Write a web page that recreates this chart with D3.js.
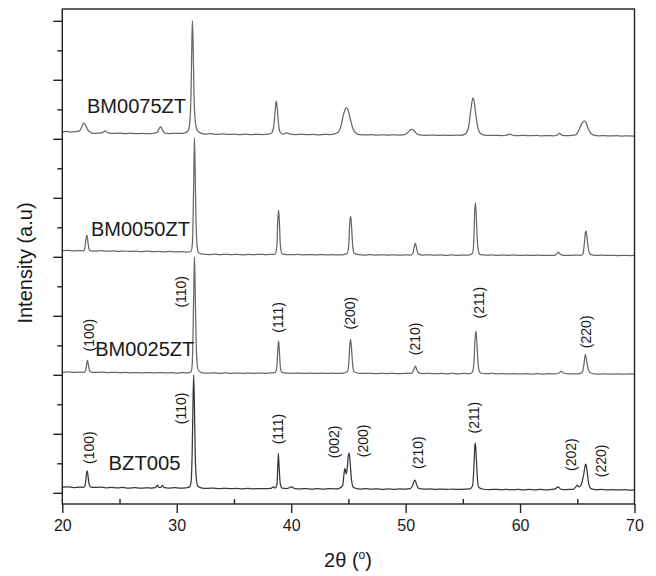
<!DOCTYPE html>
<html>
<head>
<meta charset="utf-8">
<script src="https://cdn.jsdelivr.net/npm/d3@7"></script>
<style>
  body { margin: 0; background: #fff; }
  svg { display: block; }
  text { font-family: "Liberation Sans", Arial, Helvetica, sans-serif; fill: #1a1a1a; }
</style>
</head>
<body>
<svg id="chart" width="656" height="576"></svg>
<script>
// XRD patterns, 2θ (degrees) vs intensity (counts), each pattern shifted by its offset
const samples = ["BZT005", "BM0025ZT", "BM0050ZT", "BM0075ZT"];
const offsets = [0, 1970, 3980, 6000];

const bzt005 = [
  [20.0,95],[20.5,102],[21.0,88],[21.5,98],[21.8,92],
  [21.95,110],[22.05,200],[22.12,330],[22.17,373],[22.24,300],[22.33,160],[22.45,100],
  [22.8,90],[23.3,97],[23.8,85],[24.3,92],[24.8,84],[25.3,90],[25.8,80],[26.3,86],[26.8,78],[27.3,84],[27.8,80],
  [28.15,88],[28.3,128],[28.45,90],[28.6,92],[28.75,126],[28.9,88],
  [29.3,80],[29.8,86],[30.3,78],[30.8,84],[31.1,95],
  [31.25,180],[31.35,700],[31.42,1500],[31.48,1995],[31.54,1550],[31.6,800],[31.7,260],[31.85,110],
  [32.2,80],[32.7,74],[33.2,80],[33.7,70],[34.2,76],[34.7,70],[35.2,75],[35.7,68],[36.2,74],[36.7,66],[37.2,72],[37.7,70],[38.2,74],
  [38.45,100],[38.6,82],[38.75,140],[38.82,400],[38.88,668],[38.95,420],[39.05,150],[39.2,80],
  [39.6,72],[40.07,100],[40.3,70],[40.8,66],[41.3,72],[41.8,64],[42.3,70],[42.8,64],[43.3,72],[43.8,66],[44.2,75],
  [44.5,120],[44.62,330],[44.7,414],[44.8,320],[44.9,420],[45.0,640],[45.07,673],[45.15,520],[45.27,220],[45.45,90],
  [46.0,64],[46.5,70],[47.0,62],[47.5,68],[48.0,60],[48.5,66],[49.0,60],[49.5,66],[50.0,62],[50.4,70],
  [50.6,120],[50.75,200],[50.82,215],[50.95,150],[51.1,80],
  [51.6,62],[52.1,66],[52.6,58],[53.1,64],[53.6,58],[54.1,62],[54.6,56],[55.1,62],[55.6,66],
  [55.85,120],[55.97,450],[56.05,790],[56.1,842],[56.17,620],[56.27,250],[56.4,90],
  [56.8,60],[57.3,54],[57.8,60],[58.3,52],[58.8,58],[59.3,52],[59.8,58],[60.3,50],[60.8,56],[61.3,50],[61.8,56],[62.3,50],[62.8,56],
  [63.1,70],[63.3,102],[63.5,70],[63.8,52],[64.3,56],[64.7,62],
  [64.9,110],[65.0,130],[65.15,100],[65.3,120],
  [65.55,300],[65.7,470],[65.76,486],[65.85,380],[66.0,150],[66.2,70],
  [66.6,52],[67.1,56],[67.6,48],[68.1,54],[68.6,48],[69.1,52],[69.6,46],[70.0,50]
];

const bm0025zt = [
  [20.0,72],[20.5,78],[21.0,70],[21.5,76],[21.9,72],
  [22.03,100],[22.12,200],[22.2,279],[22.28,200],[22.38,100],[22.55,74],
  [23.0,70],[23.5,74],[24.0,66],[24.5,72],[25.0,66],[25.5,70],[26.0,64],[26.5,68],[27.0,62],[27.5,68],[28.0,62],[28.5,68],[29.0,62],[29.5,66],[30.0,60],[30.5,66],[31.0,62],[31.25,80],
  [31.35,200],[31.43,800],[31.5,1600],[31.55,2030],[31.6,1600],[31.67,800],[31.77,250],[31.9,100],
  [32.3,62],[32.8,58],[33.3,64],[33.8,56],[34.3,62],[34.8,56],[35.3,60],[35.8,54],[36.3,60],[36.8,54],[37.3,60],[37.8,56],[38.3,62],[38.6,70],
  [38.74,150],[38.82,420],[38.9,606],[38.97,420],[39.06,150],[39.2,70],
  [39.6,58],[40.1,56],[40.6,60],[41.1,54],[41.6,58],[42.1,52],[42.6,58],[43.1,52],[43.6,58],[44.1,54],[44.6,60],[44.9,80],
  [45.02,200],[45.12,520],[45.2,630],[45.28,450],[45.38,180],[45.5,80],
  [45.9,56],[46.4,52],[46.9,56],[47.4,50],[47.9,56],[48.4,50],[48.9,54],[49.4,48],[49.9,54],[50.4,52],[50.6,70],
  [50.75,140],[50.85,178],[50.97,120],[51.15,62],
  [51.6,50],[52.1,54],[52.6,48],[53.1,52],[53.6,46],[54.1,52],[54.6,46],[55.1,52],[55.6,50],[55.85,80],
  [55.97,250],[56.07,650],[56.15,771],[56.22,600],[56.32,250],[56.45,90],[56.6,56],
  [57.0,48],[57.5,52],[58.0,46],[58.5,50],[59.0,44],[59.5,50],[60.0,44],[60.5,48],[61.0,42],[61.5,48],[62.0,42],[62.5,48],[63.0,44],[63.4,60],
  [63.6,90],[63.8,60],[64.2,46],[64.7,44],[65.2,50],[65.45,80],
  [65.58,200],[65.7,376],[65.8,300],[65.92,150],[66.1,70],
  [66.5,46],[67.0,42],[67.5,46],[68.0,40],[68.5,44],[69.0,40],[69.5,44],[70.0,40]
];

const bm0050zt = [
  [20.0,125],[20.5,130],[21.0,120],[21.5,126],[21.85,122],
  [21.98,180],[22.07,330],[22.15,388],[22.22,300],[22.32,160],[22.45,120],
  [22.9,118],[23.4,124],[23.9,114],[24.4,120],[24.9,112],[25.4,118],[25.9,110],[26.4,116],[26.9,108],[27.4,114],[27.9,106],[28.4,112],[28.9,104],[29.4,110],[29.9,102],[30.4,106],[30.9,98],[31.25,110],
  [31.37,250],[31.45,900],[31.51,1650],[31.55,2032],[31.6,1600],[31.67,750],[31.77,230],[31.9,90],
  [32.3,64],[32.8,58],[33.3,66],[33.8,56],[34.3,62],[34.8,56],[35.3,62],[35.8,54],[36.3,60],[36.8,56],[37.3,62],[37.8,56],[38.3,62],[38.6,66],
  [38.75,200],[38.83,640],[38.9,812],[38.97,600],[39.06,200],[39.2,70],
  [39.6,58],[40.1,56],[40.6,60],[41.1,54],[41.6,58],[42.1,52],[42.6,58],[43.1,52],[43.6,56],[44.1,52],[44.6,58],[44.9,76],
  [45.03,220],[45.12,600],[45.2,710],[45.28,520],[45.38,200],[45.5,80],
  [45.9,56],[46.4,50],[46.9,56],[47.4,50],[47.9,54],[48.4,48],[48.9,54],[49.4,48],[49.9,52],[50.4,50],[50.62,70],
  [50.75,180],[50.85,252],[50.95,170],[51.1,70],
  [51.5,50],[52.0,54],[52.5,48],[53.0,52],[53.5,46],[54.0,52],[54.5,46],[55.0,50],[55.5,48],[55.85,80],
  [55.96,300],[56.04,800],[56.1,935],[56.17,720],[56.27,280],[56.4,90],[56.55,56],
  [57.0,48],[57.5,52],[58.0,46],[58.5,50],[59.0,44],[59.5,50],[60.0,44],[60.5,48],[61.0,42],[61.5,48],[62.0,42],[62.5,46],[63.0,44],
  [63.2,70],[63.35,100],[63.5,62],[63.8,46],[64.3,44],[64.8,48],[65.3,46],[65.5,70],
  [65.62,250],[65.72,440],[65.77,456],[65.86,330],[65.98,140],[66.15,60],
  [66.6,44],[67.1,48],[67.6,42],[68.1,46],[68.6,40],[69.1,44],[69.6,40],[70.0,42]
];

const bm0075zt = [
  [20.0,118],[20.4,124],[20.8,114],[21.2,122],[21.5,135],[21.7,200],[21.85,272],[22.0,240],[22.2,160],[22.45,110],[22.7,92],
  [23.1,96],[23.5,104],[23.75,136],[24.0,100],[24.5,90],[25.0,96],[25.5,88],[26.0,94],[26.5,86],[27.0,92],[27.5,86],[28.0,92],[28.3,110],
  [28.48,180],[28.6,204],[28.75,150],[28.95,96],[29.3,88],[29.8,92],[30.3,90],[30.7,100],[31.0,140],
  [31.15,300],[31.25,800],[31.32,1600],[31.37,2000],[31.43,1600],[31.5,800],[31.62,300],[31.8,140],[32.1,96],
  [32.5,80],[33.0,86],[33.5,76],[34.0,82],[34.5,74],[35.0,80],[35.5,72],[36.0,78],[36.5,70],[37.0,76],[37.5,72],[38.0,80],[38.3,100],
  [38.5,250],[38.62,520],[38.7,639],[38.78,520],[38.9,240],[39.05,110],[39.3,80],[39.6,100],[39.9,80],
  [40.4,72],[40.9,76],[41.4,70],[41.9,74],[42.4,68],[42.9,74],[43.4,72],[43.8,84],[44.1,110],
  [44.35,220],[44.6,430],[44.8,526],[44.95,500],[45.15,350],[45.4,170],[45.7,90],[46.0,70],
  [46.5,66],[47.0,70],[47.5,64],[48.0,68],[48.5,62],[49.0,68],[49.5,62],[49.9,70],
  [50.2,110],[50.45,155],[50.6,160],[50.8,120],[51.05,76],[51.4,62],
  [51.9,60],[52.4,64],[52.9,58],[53.4,62],[53.9,56],[54.4,62],[54.8,60],[55.2,80],
  [55.5,200],[55.72,520],[55.88,695],[55.98,640],[56.15,380],[56.35,160],[56.6,80],[56.9,62],
  [57.4,56],[57.9,60],[58.4,54],[58.8,60],[59.1,80],[59.4,58],[59.9,54],[60.4,58],[60.9,52],[61.4,56],[61.9,50],[62.4,54],[62.9,50],
  [63.2,60],[63.45,90],[63.7,58],[64.1,52],[64.5,56],[64.9,70],
  [65.15,150],[65.4,260],[65.6,305],[65.75,280],[65.95,170],[66.2,90],[66.5,58],
  [66.9,50],[67.4,54],[67.9,48],[68.4,52],[68.9,46],[69.4,50],[70.0,46]
];

const patterns = [bzt005, bm0025zt, bm0050zt, bm0075zt];

// Sample name anchors, in (2θ, counts)
const sampleLabelAt = [[24.04, 385], [22.88, 2317], [22.5, 4351], [22.16, 6444]];

// Miller indices for the BM0025ZT and BZT005 reflections, anchored in (2θ, counts)
const hklBM0025 = ["(100)", "(110)", "(111)", "(200)", "(210)", "(211)", "(220)"];
const hklBM0025At = [[22.29, 2673], [30.36, 3407], [38.87, 2973], [45.13, 3046], [50.80, 2609], [56.41, 3224], [65.78, 2729]];
const hklBZT005 = ["(100)", "(110)", "(111)", "(002)", "(200)", "(210)", "(211)", "(202)", "(220)"];
const hklBZT005At = [[22.29, 766], [30.36, 1431], [38.87, 1080], [43.73, 864], [46.24, 880], [51.09, 681], [55.98, 1275], [64.48, 647], [67.03, 541]];

const xTicks = [20, 30, 40, 50, 60, 70];
const xMinorTicks = [25, 35, 45, 55, 65];
const yTicks = [0, 1000, 2000, 3000, 4000, 5000, 6000, 7000, 8000];
const yMinorTicks = [500, 1500, 2500, 3500, 4500, 5500, 6500, 7500];

const svg = d3.select("#chart");
const plotLeft = 62.3, plotRight = 634.5, plotTop = 9, plotBottom = 504;

const x = d3.scaleLinear().domain([20, 70]).range([plotLeft, plotRight]);
const y = d3.scaleLinear().domain([-190, 8200]).range([plotBottom, plotTop]);

const lineColors = ["#383838", "#686868", "#686868", "#686868"];

// Patterns
patterns.forEach((pts, i) => {
  const line = d3.line()
    .x(d => x(d[0]))
    .y(d => y(d[1] + offsets[i]))
    .curve(d3.curveMonotoneX);
  svg.append("path")
    .datum(pts)
    .attr("d", line)
    .attr("fill", "none")
    .attr("stroke", lineColors[i])
    .attr("stroke-width", 1.25)
    .attr("stroke-linejoin", "round");
});

// Frame
svg.append("rect")
  .attr("x", plotLeft).attr("y", plotTop)
  .attr("width", plotRight - plotLeft).attr("height", plotBottom - plotTop)
  .attr("fill", "none").attr("stroke", "#222").attr("stroke-width", 1.4);

// Bottom axis: major ticks outward with labels, minor ticks inward
const xAxis = d3.axisBottom(x).tickValues(xTicks).tickSize(9).tickPadding(7).tickFormat(d3.format("d"));
const gx = svg.append("g").attr("transform", `translate(0,${plotBottom})`).call(xAxis);
gx.select(".domain").remove();
gx.selectAll(".tick line").attr("stroke", "#222").attr("stroke-width", 1.4);
gx.selectAll(".tick text").attr("font-size", 16).attr("fill", "#1a1a1a")
  .attr("font-family", "'Liberation Sans', Arial, sans-serif");

const xMinor = d3.axisBottom(x).tickValues(xMinorTicks).tickSize(-5).tickFormat("");
const gxm = svg.append("g").attr("transform", `translate(0,${plotBottom})`).call(xMinor);
gxm.select(".domain").remove();
gxm.selectAll(".tick line").attr("stroke", "#222").attr("stroke-width", 1.4);

// Left axis: unlabelled ticks, all outward
const yAxis = d3.axisLeft(y).tickValues(yTicks).tickSize(9).tickFormat("");
const gy = svg.append("g").attr("transform", `translate(${plotLeft},0)`).call(yAxis);
gy.select(".domain").remove();
gy.selectAll(".tick line").attr("stroke", "#222").attr("stroke-width", 1.4);

const yMinor = d3.axisLeft(y).tickValues(yMinorTicks).tickSize(5).tickFormat("");
const gym = svg.append("g").attr("transform", `translate(${plotLeft},0)`).call(yMinor);
gym.select(".domain").remove();
gym.selectAll(".tick line").attr("stroke", "#222").attr("stroke-width", 1.4);

// Sample names
const nameWidths = [72, 99, 99, 99];
samples.forEach((name, i) => {
  svg.append("text")
    .attr("x", x(sampleLabelAt[i][0]))
    .attr("y", y(sampleLabelAt[i][1]))
    .attr("font-size", 20)
    .attr("textLength", nameWidths[i])
    .attr("lengthAdjust", "spacingAndGlyphs")
    .text(name);
});

// Reflection labels, rotated
function drawHkl(labels, at) {
  labels.forEach((t, i) => {
    const px = x(at[i][0]), py = y(at[i][1]);
    svg.append("text")
      .attr("transform", `translate(${px},${py}) rotate(-90)`)
      .attr("text-anchor", "middle")
      .attr("dominant-baseline", "central")
      .attr("font-size", 14)
      .text(t);
  });
}
drawHkl(hklBM0025, hklBM0025At);
drawHkl(hklBZT005, hklBZT005At);

// Axis titles
svg.append("text")
  .attr("transform", "translate(25,263) rotate(-90)")
  .attr("text-anchor", "middle")
  .attr("dominant-baseline", "central")
  .attr("font-size", 20)
  .text("Intensity (a.u)");

const xt = svg.append("text")
  .attr("x", 348).attr("y", 567)
  .attr("text-anchor", "middle")
  .attr("font-size", 20);
xt.append("tspan").text("2θ (");
xt.append("tspan").attr("font-size", 12).attr("dy", -8).text("o");
xt.append("tspan").attr("dy", 8).text(")");
</script>
</body>
</html>
